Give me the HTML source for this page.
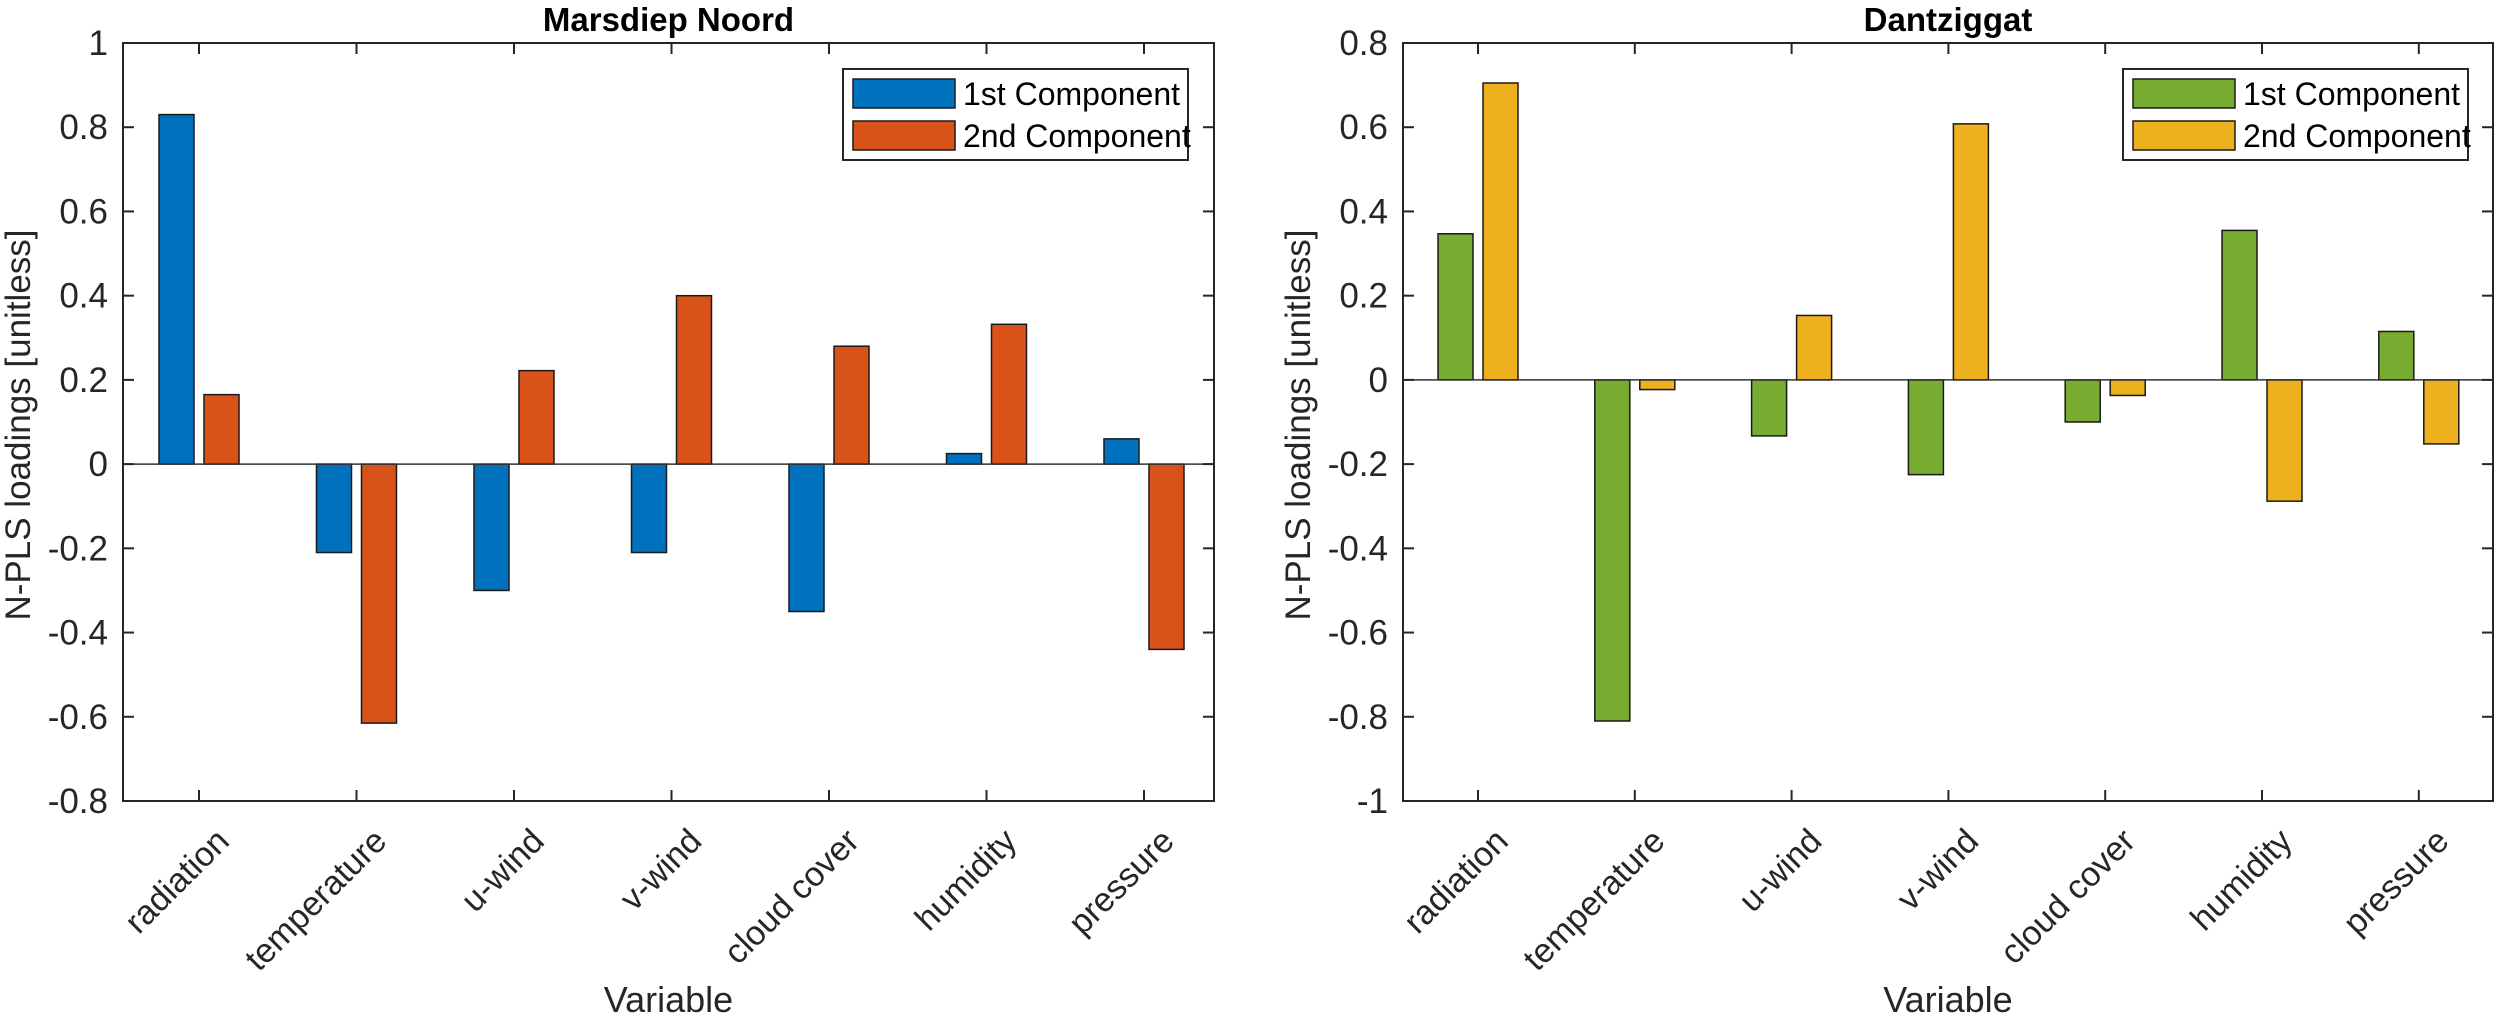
<!DOCTYPE html>
<html><head><meta charset="utf-8"><style>
html,body{margin:0;padding:0;background:#fff}
svg{display:block}
text{font-family:"Liberation Sans",Arial,sans-serif;fill:#262626}
</style></head><body>
<svg id="fig" width="2500" height="1019" xmlns="http://www.w3.org/2000/svg"></svg>
<script>
const categories = ["radiation","temperature","u-wind","v-wind","cloud cover","humidity","pressure"];
const leftComp1 = [0.83, -0.21, -0.30, -0.21, -0.35, 0.025, 0.06];
const leftComp2 = [0.165, -0.615, 0.222, 0.40, 0.28, 0.332, -0.44];
const rightComp1 = [0.347, -0.81, -0.133, -0.225, -0.10, 0.355, 0.115];
const rightComp2 = [0.705, -0.023, 0.153, 0.608, -0.037, -0.288, -0.152];
const leftTicks = [1, 0.8, 0.6, 0.4, 0.2, 0, -0.2, -0.4, -0.6, -0.8];
const leftTickLabels = ["1","0.8","0.6","0.4","0.2","0","-0.2","-0.4","-0.6","-0.8"];
const rightTicks = [0.8, 0.6, 0.4, 0.2, 0, -0.2, -0.4, -0.6, -0.8, -1];
const rightTickLabels = ["0.8","0.6","0.4","0.2","0","-0.2","-0.4","-0.6","-0.8","-1"];
const seriesNames = ["1st Component","2nd Component"];

const NS = "http://www.w3.org/2000/svg";
const svg = document.getElementById('fig');
function mk(tag, attrs, parent){
  const e = document.createElementNS(NS, tag);
  for (const k in attrs) e.setAttribute(k, attrs[k]);
  (parent||svg).appendChild(e);
  return e;
}

function panel(cfg){
  const g = mk('g', {});
  
  
  const L = cfg.left, R = cfg.right, T = 43, B = 801;
  const yMax = cfg.yMax, yMin = cfg.yMin;
  const y = v => T + (yMax - v) / (yMax - yMin) * (B - T);
  const x = i => cfg.x0 + i * cfg.dx;
  const bg = mk('rect', {x:L, y:T, width:R-L, height:B-T, fill:'#fff'}, g);
  
  
  const series = [cfg.s1, cfg.s2];
  const colors = [cfg.c1, cfg.c2];
  const bw = 35, off = 22.5;
  series.forEach((s, si) => {
    s.forEach((v, i) => {
      const cx = x(i) + (si === 0 ? -off : off);
      const y0 = y(0), yv = y(v);
      const r = mk('rect', {x:cx - bw/2, y:Math.min(y0,yv), width:bw, height:Math.abs(yv-y0), fill:colors[si], stroke:'#1a1a1a', 'stroke-width':1.5}, g);
      
      
    });
  });
  const zl = mk('line', {x1:L, x2:R, y1:y(0), y2:y(0), stroke:'#333', 'stroke-width':1.5}, g);
  
  
  const box = mk('rect', {x:L, y:T, width:R-L, height:B-T, fill:'none', stroke:'#262626', 'stroke-width':2}, g);
  
  
  cfg.ticks.forEach((t, i) => {
    const yy = y(t);
    mk('line', {x1:L, x2:L+11, y1:yy, y2:yy, stroke:'#262626', 'stroke-width':2}, g);
    mk('line', {x1:R, x2:R-11, y1:yy, y2:yy, stroke:'#262626', 'stroke-width':2}, g);
    const tx = mk('text', {x:L-15, y:yy+12, 'font-size':35, 'text-anchor':'end'}, g);
    tx.textContent = cfg.tickLabels[i];
    
    
  });
  categories.forEach((c, i) => {
    const xx = x(i);
    mk('line', {x1:xx, x2:xx, y1:B, y2:B-11, stroke:'#262626', 'stroke-width':2}, g);
    mk('line', {x1:xx, x2:xx, y1:T, y2:T+11, stroke:'#262626', 'stroke-width':2}, g);
    const ax = xx + 32, ay = 843;
    const tx = mk('text', {x:ax, y:ay, 'font-size':34, 'text-anchor':'end', transform:'rotate(-45 '+ax+' '+ay+')'}, g);
    tx.textContent = c;
    
    
  });
  const ti = mk('text', {x:(L+R)/2, y:31, 'font-size':33, 'font-weight':'bold', 'text-anchor':'middle', style:'fill:#000'}, g);
  ti.textContent = cfg.title;
  
  
  const xl = mk('text', {x:(L+R)/2, y:1012, 'font-size':36, 'text-anchor':'middle'}, g);
  xl.textContent = 'Variable';
  
  
  const ylx = cfg.ylabelX, yly = 425;
  const yl = mk('text', {x:ylx, y:yly, 'font-size':35, 'text-anchor':'middle', transform:'rotate(-90 '+ylx+' '+yly+')'}, g);
  yl.textContent = 'N-PLS loadings [unitless]';
  
  
  const lg = mk('g', {}, g);
  
  
  mk('rect', {x:cfg.legX, y:69, width:345, height:91, fill:'#fff', stroke:'#262626', 'stroke-width':2}, lg);
  seriesNames.forEach((n, si) => {
    const yy = 79 + si*42;
    const sw = mk('rect', {x:cfg.legX+10, y:yy, width:102, height:29, fill:colors[si], stroke:'#1a1a1a', 'stroke-width':1.5}, lg);
    
    
    const t = mk('text', {x:cfg.legX+120, y:yy+26, 'font-size':32, style:'fill:#000'}, lg);
    t.textContent = n;
    
    
  });
}

panel({name:'marsdiep-noord-chart', title:'Marsdiep Noord', left:123, right:1214, x0:199, dx:157.5,
  yMax:1, yMin:-0.8, ticks:leftTicks, tickLabels:leftTickLabels, s1:leftComp1, s2:leftComp2,
  c1:'#0072BD', c2:'#D95319', legX:843, ylabelX:30});
panel({name:'dantziggat-chart', title:'Dantziggat', left:1403, right:2493, x0:1478, dx:156.8,
  yMax:0.8, yMin:-1, ticks:rightTicks, tickLabels:rightTickLabels, s1:rightComp1, s2:rightComp2,
  c1:'#77AC30', c2:'#EDB120', legX:2123, ylabelX:1310});
</script>
</body></html>
